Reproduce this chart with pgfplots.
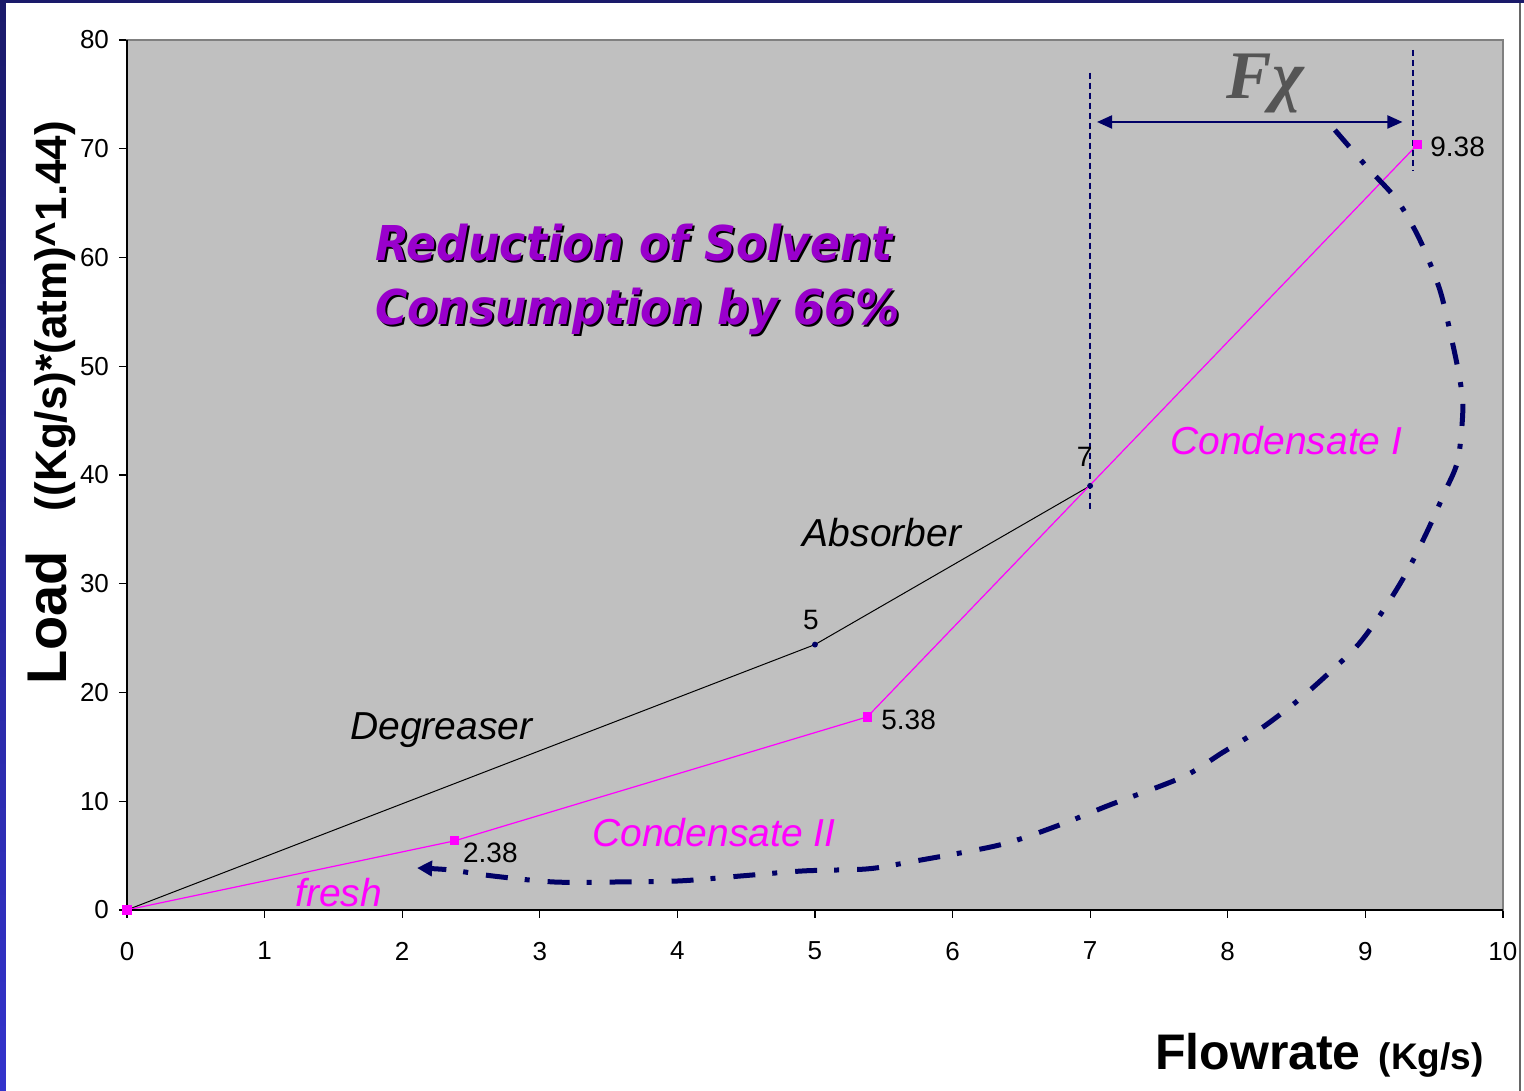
\documentclass[border=0pt]{standalone}
\usepackage{fontspec}
\setmainfont{Liberation Sans}
\newfontfamily\titlefont[FakeStretch=0.92]{DejaVu Sans}
\newfontfamily\serifb{Liberation Serif}
\usepackage{pgfplots}
\pgfplotsset{compat=1.18}
\usetikzlibrary{arrows.meta}
\definecolor{plotgrey}{HTML}{C0C0C0}
\definecolor{navy}{HTML}{000066}
\definecolor{mag}{HTML}{FF00FF}
\definecolor{purp}{HTML}{9900CC}
\definecolor{bartop}{HTML}{1A1A6A}
\definecolor{barbot}{HTML}{3333CC}
\definecolor{fchi}{HTML}{555555}
\tikzset{ttl/.style={anchor=base west, inner sep=0pt,
    font=\titlefont\fontsize{24}{28}\selectfont\bfseries\itshape}}

\begin{document}
\begin{tikzpicture}
% page background in pixel units of the reference
\begin{scope}[x=0.5pt,y=-0.5pt,shift={(-63.5pt,455pt)}]
  \fill[white] (0,0) rectangle (1524,1091);
  \shade[top color=bartop, bottom color=barbot] (0,0) rectangle (6,1091);
  \fill[bartop] (0,0) rectangle (1524,3);
  \fill[gray!80!black] (1519,3) rectangle (1521,1091);
\end{scope}

\begin{axis}[
  at={(0,0)}, anchor=south west, scale only axis,
  width=688pt, height=435pt,
  xmin=0, xmax=10, ymin=0, ymax=80,
  xtick={0,1,...,10}, ytick={0,10,...,80},
  tick pos=left, tick align=outside, major tick length=4pt,
  every tick/.style={black, line width=0.6pt},
  axis line style={draw=gray, line width=0.8pt},
  axis background/.style={fill=plotgrey},
  ticklabel style={font=\fontsize{13}{15}\selectfont},
  xticklabel style={yshift=-8.5pt},
  yticklabel style={xshift=-1.5pt},
  /pgf/number format/assume math mode=true,
  clip=false,
]
% Degreaser / Absorber line
\addplot[black, line width=0.5pt, mark=*, mark size=1.2pt,
  mark options={draw=navy, fill=navy}, mark indices={2,3}]
  coordinates {(0,0) (5,24.4) (7,39.0)};
% Fresh / Condensate line
\addplot[mag, line width=0.6pt, mark=square*, mark size=2pt,
  mark options={draw=mag, fill=mag}]
  coordinates {(0,0) (2.38,6.35) (5.38,17.75) (9.38,70.4)};

% vertical dashed guides
\addplot[navy, line width=1pt, dash pattern=on 3pt off 2pt, forget plot]
  coordinates {(7,77.0) (7,36.6)};
\addplot[navy, line width=1pt, dash pattern=on 3pt off 2pt, forget plot]
  coordinates {(9.35,79.1) (9.35,68.0)};

% double arrow
\addplot[navy, line width=1pt,
  {Triangle[length=7.5pt,width=6.5pt]}-{Triangle[length=7.5pt,width=6.5pt]}, forget plot]
  coordinates {(7.05,72.46) (9.27,72.46)};

% dash-dot recycle curve
\addplot[navy, line width=2.5pt, smooth, tension=0.5,
  dash pattern=on 11pt off 9pt on 2.5pt off 8.5pt,
  -{Triangle[length=7.5pt,width=7.5pt]}, forget plot]
  coordinates {
  (8.779,71.72) (9.012,68.32) (9.230,65.29) (9.397,61.61) (9.542,57.01)
  (9.629,52.41) (9.688,48.74) (9.709,45.98) (9.673,41.38) (9.578,38.44)
  (9.448,34.76) (9.302,31.08) (9.142,27.77) (8.953,24.46) (8.721,21.61)
  (8.488,19.03) (8.227,16.55) (7.958,14.44) (7.674,12.23) (7.144,9.66)
  (6.780,7.82) (6.344,5.98) (5.690,4.41) (5.378,3.77) (4.920,3.59)
  (4.469,3.13) (4.019,2.67) (3.561,2.57) (3.103,2.57) (2.653,3.13)
  (2.347,3.68) (2.108,3.86)};

% black axis lines on left and bottom
\draw[black, line width=0.8pt] (rel axis cs:0,1) -- (rel axis cs:0,0) -- (rel axis cs:1,0);

% point labels
\node[anchor=base, font=\fontsize{14}{16}\selectfont] at (axis cs:4.97,25.75) {5};
\node[anchor=base, font=\fontsize{14}{16}\selectfont] at (axis cs:6.96,40.74) {7};
\node[anchor=base west, inner sep=0pt, font=\fontsize{14}{16}\selectfont] at (axis cs:9.47,69.33) {9.38};
\node[anchor=base west, inner sep=0pt, font=\fontsize{14}{16}\selectfont] at (axis cs:5.48,16.55) {5.38};
\node[anchor=base west, inner sep=0pt, font=\fontsize{14}{16}\selectfont] at (axis cs:2.44,4.32) {2.38};

% stream labels
\node[anchor=base west, inner sep=0pt, font=\fontsize{19.5}{22}\selectfont\itshape] at (axis cs:1.62,15.63) {Degreaser};
\node[anchor=base west, inner sep=0pt, font=\fontsize{19.5}{22}\selectfont\itshape] at (axis cs:4.91,33.38) {Absorber};
\node[anchor=base west, inner sep=0pt, text=mag, font=\fontsize{19.5}{22}\selectfont\itshape] at (axis cs:7.58,41.84) {Condensate I};
\node[anchor=base west, inner sep=0pt, text=mag, font=\fontsize{19.5}{22}\selectfont\itshape] at (axis cs:3.38,5.79) {Condensate II};
\node[anchor=base west, inner sep=0pt, text=mag, font=\fontsize{19.5}{22}\selectfont\itshape] at (axis cs:1.22,0.28) {fresh};

% F chi
\node[anchor=base west, inner sep=0pt, text=fchi, font=\serifb\fontsize{34}{38}\selectfont\bfseries\itshape] at (axis cs:7.99,74.6) {Fχ};

% title with shadow
\node[ttl, text=black, xshift=1pt, yshift=-1pt] at (axis cs:1.80,59.7) {Reduction of Solvent};
\node[ttl, text=purp] at (axis cs:1.80,59.7) {Reduction of Solvent};
\node[ttl, text=black, xshift=1pt, yshift=-1pt] at (axis cs:1.80,53.8) {Consumption by 66\%};
\node[ttl, text=purp] at (axis cs:1.80,53.8) {Consumption by 66\%};
\end{axis}

% axis titles in pixel coordinates
\begin{scope}[x=0.5pt,y=-0.5pt,shift={(-63.5pt,455pt)}]
  \node[anchor=base east, inner sep=0pt] at (1484,1070)
    {{\fontsize{25}{28}\selectfont\bfseries Flowrate}\hspace{9pt}{\fontsize{18.5}{22}\selectfont\bfseries (Kg/s)}};
  \node[anchor=base, rotate=90, inner sep=0pt] at (67,403)
    {{\fontsize{28}{32}\selectfont\bfseries Load}\hspace{20pt}{\fontsize{22}{26}\selectfont\bfseries ((Kg/s)*(atm)\^{}1.44)}};
\end{scope}
\end{tikzpicture}
\end{document}
